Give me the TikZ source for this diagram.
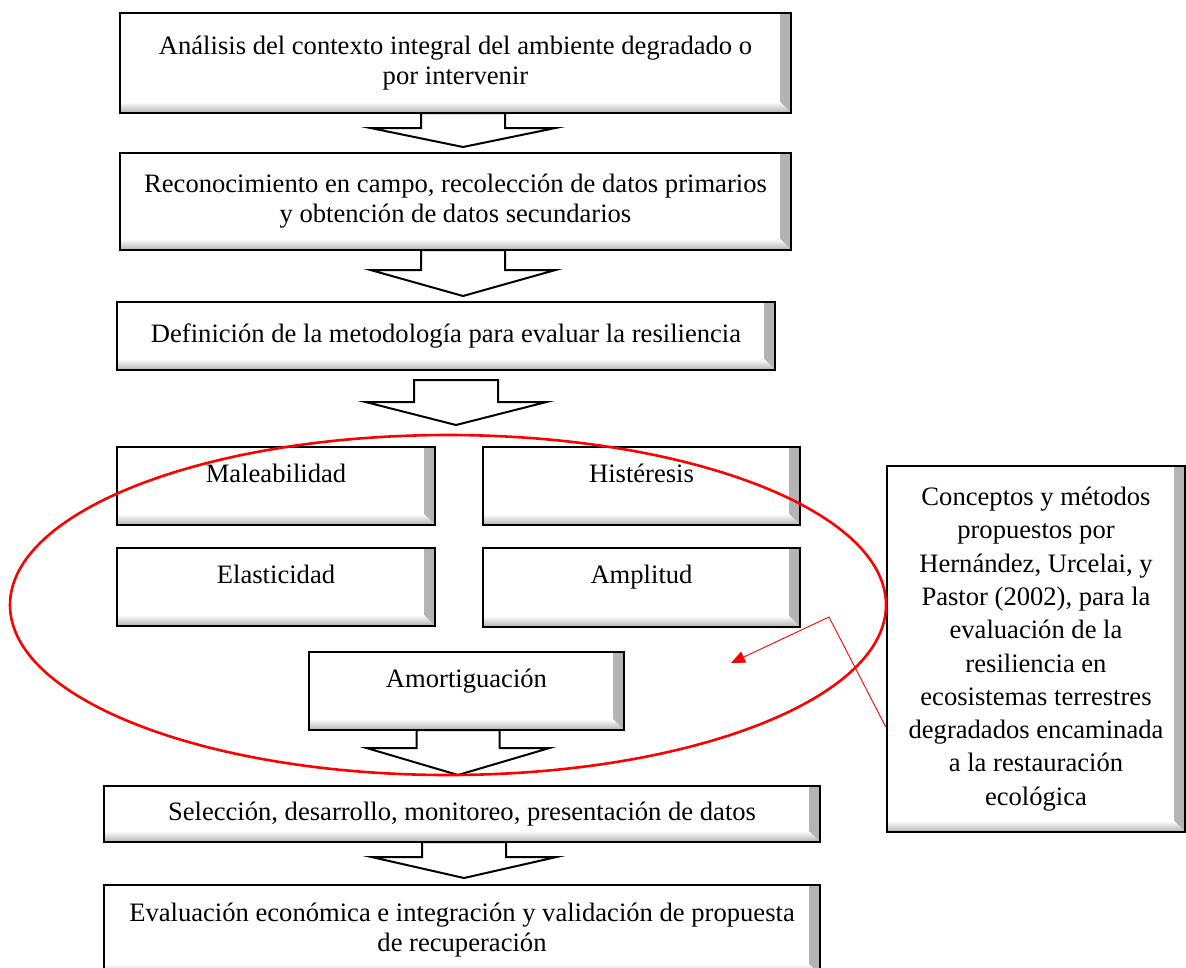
\documentclass[tikz,border=0pt]{standalone}
\usepackage{fontspec}
\setmainfont{Liberation Serif}
\usetikzlibrary{arrows.meta}

\newcommand{\mainsize}{\fontsize{26.6}{30}\selectfont}
\newcommand{\notesize}{\fontsize{26.6}{33.3}\selectfont}

% block arrow: centre x, top y, shoulder y, tip y, stem half width, head half width
\newcommand{\blockarrow}[6]{%
  \draw[barrow] (#1-#5,#2) -- (#1-#5,#3) -- (#1-#6,#3) -- (#1,#4)
    -- (#1+#6,#3) -- (#1+#5,#3) -- (#1+#5,#2) -- cycle;}

\tikzset{
  box/.style={draw=black, line width=2.4pt, fill=white, inner sep=0pt,
    align=center, font=\mainsize,
    path picture={
      \shade[left color=white, right color=black!30]
        ([xshift=-11pt]path picture bounding box.north east)
        -- (path picture bounding box.north east)
        -- (path picture bounding box.south east)
        -- ([shift={(-11pt,11pt)}]path picture bounding box.south east) -- cycle;
      \shade[top color=white, bottom color=black!30]
        ([yshift=11pt]path picture bounding box.south west)
        -- (path picture bounding box.south west)
        -- (path picture bounding box.south east)
        -- ([shift={(-11pt,11pt)}]path picture bounding box.south east) -- cycle;
    }},
  topbox/.style={box, text depth=26pt},
  barrow/.style={draw=black, line width=2pt, fill=white, line join=miter},
  group/.style={draw=red, line width=2.6pt},
  pointer/.style={draw=red, line width=0.9pt, -{Triangle[length=14pt,width=12pt]}, fill=none}
}

\begin{document}
\begin{tikzpicture}[x=1pt, y=-1pt]
\useasboundingbox (0,0) rectangle (1186,967);

% flow arrows
\blockarrow{463}{113}{128}{147}{42}{92.5}
\blockarrow{463}{250}{270}{296}{42}{92.5}
\blockarrow{456}{380}{402}{425}{42}{90.5}
\blockarrow{458}{730}{748}{775}{41.5}{91.5}
\blockarrow{464}{842}{857}{878}{42}{92.5}

% main steps
\node[box, minimum width=671pt, minimum height=100pt] (b1) at (455.5,63)
  {Análisis del contexto integral del ambiente degradado o\\por intervenir};
\node[box, minimum width=671pt, minimum height=97pt] (b2) at (455.5,201.5)
  {Reconocimiento en campo, recolección de datos primarios\\y obtención de datos secundarios};
\node[box, minimum width=658pt, minimum height=68pt] (b3) at (446,336)
  {Definición de la metodología para evaluar la resiliencia};

% resilience attributes
\node[topbox, minimum width=318pt, minimum height=78pt] (m1) at (276,486) {Maleabilidad};
\node[topbox, minimum width=317pt, minimum height=78pt] (m2) at (641.5,486) {Histéresis};
\node[topbox, minimum width=318pt, minimum height=78pt] (m3) at (276,587) {Elasticidad};
\node[topbox, minimum width=317pt, minimum height=79pt] (m4) at (641.5,587.5) {Amplitud};
\node[topbox, minimum width=315pt, minimum height=78pt] (m5) at (466.5,691) {Amortiguación};

% later steps
\node[box, minimum width=716pt, minimum height=56pt] (b4) at (462,814)
  {Selección, desarrollo, monitoreo, presentación de datos};
\node[box, minimum width=716pt, minimum height=90pt] (b5) at (462,930)
  {Evaluación económica e integración y validación de propuesta\\de recuperación};

% side note
\node[box, font=\notesize, minimum width=298pt, minimum height=366pt] (note) at (1036,649)
  {Conceptos y métodos\\propuestos por\\Hernández, Urcelai, y\\Pastor (2002), para la\\evaluación de la\\resiliencia en\\ecosistemas terrestres\\degradados encaminada\\a la restauración\\ecológica};

% grouping ellipse and pointer
\draw[group] (448,605) ellipse [x radius=438pt, y radius=170pt];
\coordinate (bend) at (829,617);
\coordinate (target) at (731,663);
\draw[pointer] ([yshift=-78pt]note.west) -- (bend) -- (target);
\end{tikzpicture}
\end{document}
